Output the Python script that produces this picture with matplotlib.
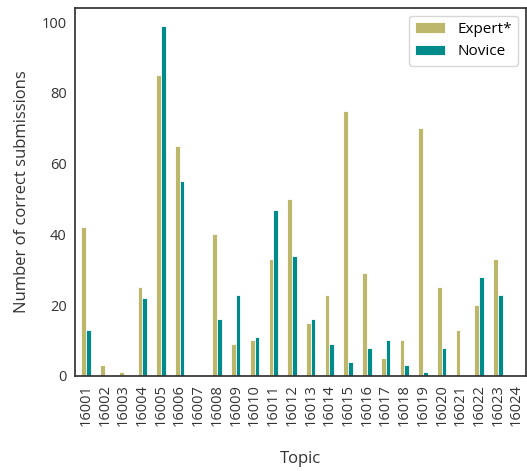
import matplotlib
matplotlib.use("Agg")
import matplotlib.pyplot as plt
import numpy as np

plt.rcParams["font.family"] = ["Open Sans", "DejaVu Sans"]

topics = [str(16001 + i) for i in range(24)]
expert = [42, 3, 1, 25, 85, 65, 0, 40, 9, 10, 33, 50, 15, 23, 75, 29, 5, 10, 70, 25, 13, 20, 33, 0]
novice = [13, 0, 0, 22, 99, 55, 0, 16, 23, 11, 47, 34, 16, 9, 4, 8, 10, 3, 1, 8, 0, 28, 23, 0]

fig = plt.figure(figsize=(5.27, 4.71), dpi=100)
ax = fig.add_axes([0.142, 0.202, 0.856, 0.781])

x = np.arange(len(topics))
w = 0.25
ax.bar(x - w / 2, expert, w, color="#bdb76b", edgecolor="white", linewidth=0.6, label="Expert*")
ax.bar(x + w / 2, novice, w, color="#008b8b", edgecolor="white", linewidth=0.6, label="Novice")

ax.set_xlim(-0.6, 23.5)
ax.set_ylim(0, 104)
ax.set_yticks([0, 20, 40, 60, 80, 100])
ax.set_xticks(x)
ax.set_xticklabels(topics, rotation=90)
ax.tick_params(axis="both", length=0, labelsize=10.5, colors="#333333", pad=6)
for s in ax.spines.values():
    s.set_color("#333333")
    s.set_linewidth(1.25)
ax.set_xlabel("Topic", fontsize=12, color="#333333", labelpad=18)
ax.set_ylabel("Number of correct submissions", fontsize=12, color="#333333", labelpad=8)
leg = ax.legend(loc="upper right", fontsize=11, frameon=True)
leg.get_frame().set_edgecolor("#cccccc")

fig.savefig("out.png", dpi=100)
